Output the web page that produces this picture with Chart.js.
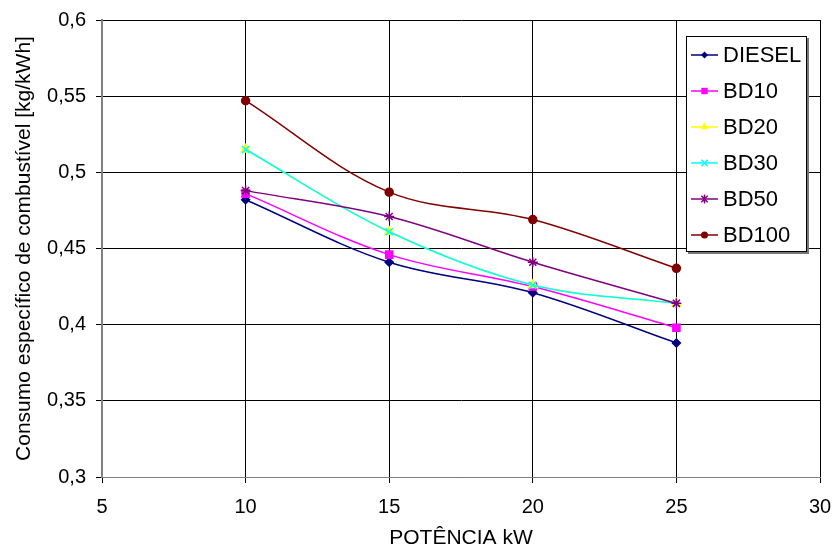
<!DOCTYPE html>
<html>
<head>
    <title>Consumo específico de combustível</title>
    <meta charset="UTF-8">
    <script src="https://cdn.jsdelivr.net/npm/chart.js"></script>
    <style>
        body { margin: 0; background: #fff; }
    </style>
</head>
<body>
    <canvas id="consumoChart" width="834" height="551"></canvas>

    <script>
        // potência (kW)
        const potencia = [10, 15, 20, 25];

        // consumo específico (kg/kWh) por combustível
        const diesel = [0.482, 0.441, 0.421, 0.388];
        const bd10   = [0.486, 0.446, 0.425, 0.398];
        const bd20   = [0.515, 0.461, 0.426, 0.414];
        const bd30   = [0.515, 0.461, 0.426, 0.414];
        const bd50   = [0.488, 0.471, 0.441, 0.414];
        const bd100  = [0.547, 0.487, 0.469, 0.437];

        const seriesNames = ['DIESEL', 'BD10', 'BD20', 'BD30', 'BD50', 'BD100'];
        const seriesValues = [diesel, bd10, bd20, bd30, bd50, bd100];
        const seriesColors = ['#000080', '#FF00FF', '#FFFF00', '#00FFFF', '#800080', '#800000'];
        const seriesPoints = ['rectRot', 'rect', 'triangle', 'crossRot', 'star', 'circle'];
        const pointSizes = [4, 5, 5, 5, 5, 4];

        const fontFamily = "'Liberation Sans', Arial, sans-serif";

        const datasets = seriesNames.map((name, i) => ({
            label: name,
            data: potencia.map((x, j) => ({ x: x, y: seriesValues[i][j] })),
            borderColor: seriesColors[i],
            backgroundColor: seriesColors[i],
            pointStyle: seriesPoints[i],
            pointRadius: pointSizes[i],
            pointBorderWidth: 1.5,
            borderWidth: 1.5,
            tension: 0.35,
            order: -i
        }));

        // marcador simples para a legenda
        function drawMarker(ctx, style, x, y, r) {
            ctx.beginPath();
            if (style === 'rectRot') {
                ctx.moveTo(x, y - r); ctx.lineTo(x + r, y); ctx.lineTo(x, y + r); ctx.lineTo(x - r, y);
                ctx.closePath(); ctx.fill();
            } else if (style === 'rect') {
                const s = r * Math.SQRT1_2;
                ctx.fillRect(x - s, y - s, 2 * s, 2 * s);
            } else if (style === 'triangle') {
                ctx.moveTo(x, y - r); ctx.lineTo(x + r * 0.87, y + r * 0.5); ctx.lineTo(x - r * 0.87, y + r * 0.5);
                ctx.closePath(); ctx.fill();
            } else if (style === 'crossRot') {
                const d = r * Math.SQRT1_2;
                ctx.moveTo(x - d, y - d); ctx.lineTo(x + d, y + d);
                ctx.moveTo(x - d, y + d); ctx.lineTo(x + d, y - d);
                ctx.stroke();
            } else if (style === 'star') {
                const d = r * Math.SQRT1_2;
                ctx.moveTo(x - d, y - d); ctx.lineTo(x + d, y + d);
                ctx.moveTo(x - d, y + d); ctx.lineTo(x + d, y - d);
                ctx.moveTo(x, y - r); ctx.lineTo(x, y + r);
                ctx.stroke();
            } else {
                ctx.arc(x, y, r, 0, Math.PI * 2);
                ctx.fill();
            }
        }

        // legenda desenhada dentro da área do gráfico
        const boxLegend = {
            id: 'boxLegend',
            afterDraw(chart) {
                const ctx = chart.ctx;
                const x0 = 686, y0 = 36, w = 121, h = 216;
                ctx.save();
                ctx.fillStyle = '#777';
                ctx.fillRect(x0 + 2, y0 + 2, w, h);
                ctx.fillStyle = '#fff';
                ctx.fillRect(x0, y0, w, h);
                ctx.strokeStyle = '#000';
                ctx.lineWidth = 1;
                ctx.strokeRect(x0 + 0.5, y0 + 0.5, w - 1, h - 1);

                ctx.font = '22px ' + fontFamily;
                ctx.textBaseline = 'middle';
                ctx.textAlign = 'left';
                seriesNames.forEach((name, i) => {
                    const y = 55 + i * 36;
                    ctx.strokeStyle = seriesColors[i];
                    ctx.fillStyle = seriesColors[i];
                    ctx.lineWidth = 1.5;
                    ctx.beginPath();
                    ctx.moveTo(691, y);
                    ctx.lineTo(718, y);
                    ctx.stroke();
                    drawMarker(ctx, seriesPoints[i], 704.5, y, pointSizes[i] - 0.5);
                    ctx.fillStyle = '#000';
                    ctx.fillText(name, 723, y + 1);
                });
                ctx.restore();
            }
        };

        const ctx = document.getElementById('consumoChart').getContext('2d');
        new Chart(ctx, {
            type: 'line',
            data: { datasets: datasets },
            options: {
                responsive: false,
                animation: false,
                layout: { padding: { top: 20, right: 14, left: 0, bottom: 0 } },
                plugins: {
                    legend: { display: false },
                    tooltip: { enabled: false }
                },
                scales: {
                    x: {
                        type: 'linear',
                        min: 5,
                        max: 30,
                        ticks: {
                            stepSize: 5,
                            padding: 12,
                            color: '#000',
                            font: { family: fontFamily, size: 20 }
                        },
                        grid: { color: '#000', lineWidth: 1, tickLength: 6, tickColor: '#000' },
                        border: { color: '#808080', width: 1 },
                        title: {
                            display: true,
                            text: 'POTÊNCIA kW',
                            color: '#000',
                            font: { family: fontFamily, size: 21 },
                            padding: { top: 0, bottom: 0 }
                        },
                        afterFit: scale => {
                            scale.height = 74;
                            scale.paddingLeft = 0;
                            scale.paddingRight = 0;
                        }
                    },
                    y: {
                        min: 0.3,
                        max: 0.6,
                        ticks: {
                            stepSize: 0.05,
                            padding: 10,
                            color: '#000',
                            font: { family: fontFamily, size: 20 },
                            callback: value => String(Math.round(value * 100) / 100).replace('.', ',')
                        },
                        grid: { color: '#000', lineWidth: 1, tickLength: 6, tickColor: '#000' },
                        border: { color: '#808080', width: 2 },
                        title: {
                            display: true,
                            text: 'Consumo específico de combustível [kg/kWh]',
                            color: '#000',
                            font: { family: fontFamily, size: 21 },
                            padding: { top: 12, bottom: 0 }
                        },
                        afterFit: scale => {
                            scale.width = 102;
                            scale.paddingTop = 0;
                            scale.paddingBottom = 0;
                        }
                    }
                }
            },
            plugins: [boxLegend]
        });
    </script>
</body>
</html>
